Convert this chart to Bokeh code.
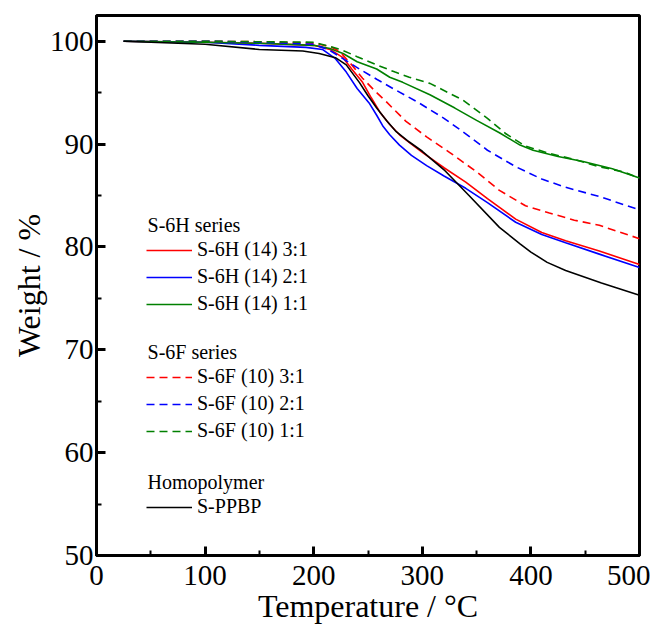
from bokeh.plotting import figure
from bokeh.models import Range1d, FixedTicker, Legend, LegendItem, Label
from bokeh.embed import file_html
from bokeh.resources import INLINE

# ---------------- data ----------------
t_h31 = [25, 100, 150, 200, 215, 227, 235, 245, 253, 261, 270, 279, 290, 300, 320, 340, 360, 386, 410, 432, 463, 500]
w_h31 = [100, 99.9, 99.8, 99.6, 99.2, 98.4, 97.3, 96.0, 94.5, 93.1, 91.9, 90.9, 90.0, 89.2, 87.7, 86.3, 84.7, 82.7, 81.4, 80.6, 79.6, 78.3]

t_h21 = [25, 100, 150, 193, 208, 220, 230, 240, 251, 258, 264, 270, 279, 290, 304, 320, 340, 360, 386, 410, 432, 463, 500]
w_h21 = [100, 99.9, 99.6, 99.4, 99.2, 98.3, 97.0, 95.4, 94.0, 92.8, 91.7, 90.9, 89.9, 88.9, 87.9, 86.9, 85.7, 84.3, 82.4, 81.2, 80.4, 79.3, 78.0]

t_h11 = [25, 100, 150, 200, 215, 227, 240, 258, 270, 282, 307, 330, 350, 371, 390, 402, 425, 448, 475, 500]
w_h11 = [100, 99.9, 99.8, 99.6, 99.3, 98.8, 98.0, 97.3, 96.5, 96.0, 94.8, 93.5, 92.3, 91.1, 89.9, 89.4, 88.8, 88.3, 87.6, 86.7]

t_f31 = [25, 100, 150, 200, 215, 224, 235, 245, 256, 267, 285, 304, 325, 350, 371, 395, 417, 440, 463, 500]
w_f31 = [100, 100, 99.95, 99.8, 99.5, 99.0, 97.7, 96.4, 95.2, 94.1, 92.2, 90.7, 89.2, 87.3, 85.5, 84.0, 83.3, 82.6, 82.1, 80.8]

t_f21 = [25, 100, 150, 200, 215, 230, 242, 258, 273, 297, 320, 340, 360, 386, 410, 432, 463, 500]
w_f21 = [100, 100, 99.9, 99.7, 99.1, 98.1, 97.3, 96.3, 95.4, 94.0, 92.5, 91.0, 89.4, 87.8, 86.6, 85.8, 84.9, 83.6]

t_f11 = [25, 100, 150, 200, 215, 227, 240, 258, 275, 288, 307, 337, 360, 377, 395, 417, 440, 463, 485, 500]
w_f11 = [100, 100, 99.95, 99.9, 99.5, 99.1, 98.5, 97.7, 97.0, 96.5, 95.9, 94.3, 92.5, 91.0, 89.8, 89.1, 88.5, 87.8, 87.3, 86.7]

t_ppbp = [25, 100, 150, 190, 205, 220, 230, 242, 250, 258, 267, 276, 288, 300, 320, 343, 371, 390, 400, 415, 432, 465, 500]
w_ppbp = [100, 99.7, 99.2, 99.05, 98.8, 98.4, 97.7, 96.0, 94.7, 93.5, 92.3, 91.2, 90.2, 89.3, 87.5, 85.0, 81.9, 80.3, 79.5, 78.5, 77.7, 76.5, 75.3]

x_ticks = [0, 100, 200, 300, 400, 500]
x_minor = [50, 150, 250, 350, 450]
y_ticks = [50, 60, 70, 80, 90, 100]
y_minor = [55, 65, 75, 85, 95]

x_title = "Temperature / \u00b0C"
y_title = "Weight / %"
labels_h = ["S-6H (14) 3:1", "S-6H (14) 2:1", "S-6H (14) 1:1"]
labels_f = ["S-6F (10) 3:1", "S-6F (10) 2:1", "S-6F (10) 1:1"]
label_p = "S-PPBP"
heads = ["S-6H series", "S-6F series", "Homopolymer"]

RED, BLUE, GREEN, BLACK = "#ff0000", "#0000ff", "#008000", "#000000"
FONT = "Liberation Serif"
DASH = "8 5"

p = figure(frame_width=543, frame_height=540, output_backend="svg", toolbar_location=None,
           x_range=Range1d(0, 500), y_range=Range1d(50, 102.5),
           min_border_left=96, min_border_right=11, min_border_top=15, min_border_bottom=60,
           background_fill_color="white", border_fill_color="white")
p.grid.visible = False
p.outline_line_color = "black"
p.outline_line_width = 3
p.outline_line_alpha = 1

for ax in (p.xaxis[0], p.yaxis[0]):
    ax.axis_line_width = 3
    ax.major_tick_in = 9
    ax.major_tick_out = 0
    ax.minor_tick_in = 5
    ax.minor_tick_out = 0
    ax.major_tick_line_width = 3
    ax.minor_tick_line_width = 2
    ax.major_label_text_font = FONT
    ax.major_label_text_font_size = "29px"
    ax.major_label_text_color = "black"
    ax.axis_label_text_font = FONT
    ax.axis_label_text_font_size = "32px"
    ax.axis_label_text_font_style = "normal"
    ax.axis_label_text_color = "black"

p.xaxis.ticker = FixedTicker(ticks=x_ticks, minor_ticks=x_minor)
p.yaxis.ticker = FixedTicker(ticks=y_ticks, minor_ticks=y_minor)
p.xaxis.axis_label = x_title
p.yaxis.axis_label = y_title
p.xaxis.major_label_standoff = 10
p.xaxis.axis_label_standoff = 0
p.yaxis.major_label_standoff = 3
p.yaxis.axis_label_standoff = 0

LW = 1.6
r_h31 = p.line(t_h31, w_h31, line_color=RED, line_width=LW)
r_h21 = p.line(t_h21, w_h21, line_color=BLUE, line_width=LW)
r_h11 = p.line(t_h11, w_h11, line_color=GREEN, line_width=LW)
r_f31 = p.line(t_f31, w_f31, line_color=RED, line_width=LW, line_dash=DASH)
r_f21 = p.line(t_f21, w_f21, line_color=BLUE, line_width=LW, line_dash=DASH)
r_f11 = p.line(t_f11, w_f11, line_color=GREEN, line_width=LW, line_dash=DASH)
r_pp = p.line(t_ppbp, w_ppbp, line_color=BLACK, line_width=LW)


def make_legend(items, y):
    lg = Legend(items=items, location=(50, y), orientation="vertical",
                glyph_width=46, glyph_height=20, label_height=20, spacing=4,
                label_standoff=5, padding=0, margin=0,
                border_line_alpha=0, background_fill_alpha=0,
                label_text_font=FONT, label_text_font_size="20px",
                label_text_color="black")
    p.add_layout(lg, "center")
    return lg


make_legend([LegendItem(label=labels_h[0], renderers=[r_h31]),
             LegendItem(label=labels_h[1], renderers=[r_h21]),
             LegendItem(label=labels_h[2], renderers=[r_h11])], 240)
make_legend([LegendItem(label=labels_f[0], renderers=[r_f31]),
             LegendItem(label=labels_f[1], renderers=[r_f21]),
             LegendItem(label=labels_f[2], renderers=[r_f11])], 113)
make_legend([LegendItem(label=label_p, renderers=[r_pp])], 37)

for txt, yv in zip(heads, [82.1, 69.75, 57.1]):
    p.add_layout(Label(x=47, y=yv, text=txt, text_font=FONT, text_font_size="20px",
                       text_baseline="middle", text_align="left", text_color="black"))

open("out.html", "w").write(file_html(p, INLINE))
